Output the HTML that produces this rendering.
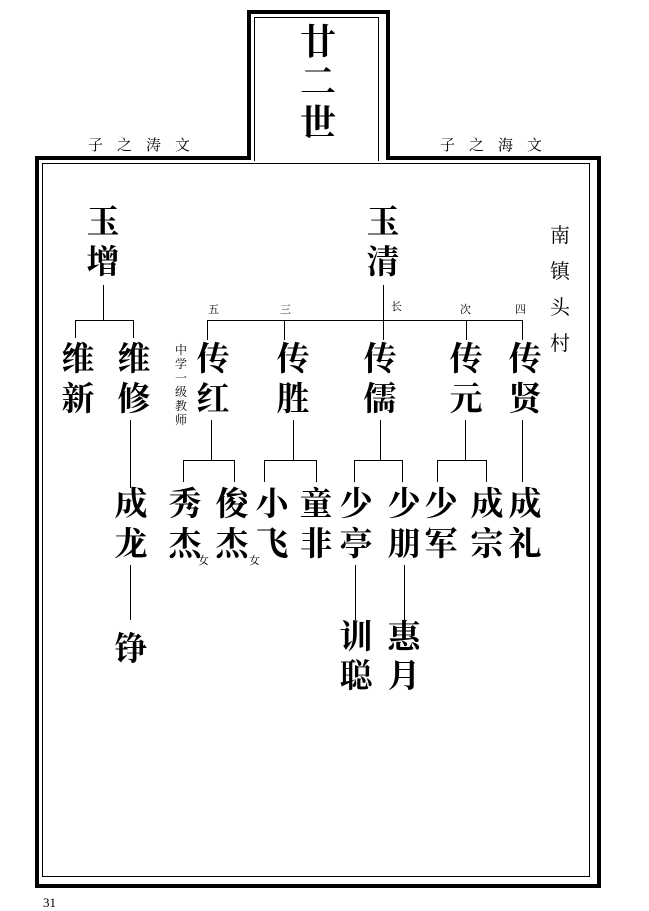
<!DOCTYPE html>
<html><head><meta charset="utf-8"><style>
body{margin:0;width:649px;height:911px;background:#fff;position:relative;overflow:hidden;font-family:"Liberation Serif","Noto Serif CJK SC",serif;}
.a{position:absolute;}
.c{position:absolute;width:40px;margin-left:-20px;text-align:center;font-size:33px;font-weight:bold;line-height:40px;}
.s{position:absolute;font-size:11px;line-height:11px;}
.l{position:absolute;background:#000;}
</style></head><body>
<!-- main frame -->
<div class="a" style="left:35px;top:156px;width:558px;height:724px;border:4px solid #000;"></div>
<div class="a" style="left:42px;top:163px;width:546px;height:712px;border:1px solid #000;"></div>
<!-- top box -->
<div class="a" style="left:247px;top:10px;width:135px;height:146px;border:4px solid #000;border-bottom:none;background:#fff;"></div>
<div class="a" style="left:254px;top:17px;width:123px;height:143px;border:1px solid #000;border-bottom:none;background:#fff;"></div>
<div class="c" style="left:318px;top:22px;font-size:36px;">廿</div>
<div class="c" style="left:318px;top:62px;font-size:36px;">二</div>
<div class="c" style="left:318px;top:103px;font-size:36px;">世</div>
<div class="a" style="left:88px;top:134px;font-size:15px;letter-spacing:14px;">子之涛文</div>
<div class="a" style="left:440px;top:134px;font-size:15px;letter-spacing:14px;">子之海文</div>
<div class="a" style="left:550px;top:218px;font-size:20px;line-height:36px;width:22px;">南<br>镇<br>头<br>村</div>

<div class="c" style="left:103px;top:203px;">玉</div>
<div class="c" style="left:103px;top:243px;">增</div>
<div class="c" style="left:383px;top:203px;">玉</div>
<div class="c" style="left:383px;top:243px;">清</div>

<div class="l" style="left:103px;top:285px;width:1px;height:35px;"></div>
<div class="l" style="left:75px;top:320px;width:59px;height:1px;"></div>
<div class="l" style="left:75px;top:320px;width:1px;height:18px;"></div>
<div class="l" style="left:133px;top:320px;width:1px;height:18px;"></div>

<div class="l" style="left:383px;top:285px;width:1px;height:35px;"></div>
<div class="l" style="left:207px;top:320px;width:316px;height:1px;"></div>
<div class="l" style="left:207px;top:320px;width:1px;height:20px;"></div>
<div class="l" style="left:284px;top:320px;width:1px;height:20px;"></div>
<div class="l" style="left:383px;top:320px;width:1px;height:20px;"></div>
<div class="l" style="left:466px;top:320px;width:1px;height:20px;"></div>
<div class="l" style="left:522px;top:320px;width:1px;height:20px;"></div>
<div class="s" style="left:208px;top:305px;">五</div>
<div class="s" style="left:280px;top:305px;">三</div>
<div class="s" style="left:391px;top:302px;">长</div>
<div class="s" style="left:460px;top:305px;">次</div>
<div class="s" style="left:515px;top:305px;">四</div>

<div class="c" style="left:78px;top:340px;">维</div><div class="c" style="left:78px;top:380px;">新</div>
<div class="c" style="left:134px;top:340px;">维</div><div class="c" style="left:134px;top:380px;">修</div>
<div class="c" style="left:213px;top:340px;">传</div><div class="c" style="left:213px;top:380px;">红</div>
<div class="c" style="left:293px;top:340px;">传</div><div class="c" style="left:293px;top:380px;">胜</div>
<div class="c" style="left:380px;top:340px;">传</div><div class="c" style="left:380px;top:380px;">儒</div>
<div class="c" style="left:466px;top:340px;">传</div><div class="c" style="left:466px;top:380px;">元</div>
<div class="c" style="left:525px;top:340px;">传</div><div class="c" style="left:525px;top:380px;">贤</div>
<div class="a" style="left:175px;top:343px;font-size:12px;line-height:14px;width:13px;">中<br>学<br>一<br>级<br>教<br>师</div>

<div class="l" style="left:130px;top:420px;width:1px;height:68px;"></div>
<div class="l" style="left:211px;top:420px;width:1px;height:40px;"></div>
<div class="l" style="left:183px;top:460px;width:52px;height:1px;"></div>
<div class="l" style="left:183px;top:460px;width:1px;height:22px;"></div>
<div class="l" style="left:234px;top:460px;width:1px;height:22px;"></div>
<div class="l" style="left:293px;top:420px;width:1px;height:40px;"></div>
<div class="l" style="left:264px;top:460px;width:53px;height:1px;"></div>
<div class="l" style="left:264px;top:460px;width:1px;height:22px;"></div>
<div class="l" style="left:316px;top:460px;width:1px;height:22px;"></div>
<div class="l" style="left:380px;top:420px;width:1px;height:40px;"></div>
<div class="l" style="left:354px;top:460px;width:49px;height:1px;"></div>
<div class="l" style="left:354px;top:460px;width:1px;height:22px;"></div>
<div class="l" style="left:402px;top:460px;width:1px;height:22px;"></div>
<div class="l" style="left:465px;top:420px;width:1px;height:40px;"></div>
<div class="l" style="left:437px;top:460px;width:50px;height:1px;"></div>
<div class="l" style="left:437px;top:460px;width:1px;height:22px;"></div>
<div class="l" style="left:486px;top:460px;width:1px;height:22px;"></div>
<div class="l" style="left:522px;top:420px;width:1px;height:62px;"></div>

<div class="c" style="left:131px;top:485px;">成</div><div class="c" style="left:131px;top:525px;">龙</div>
<div class="c" style="left:185px;top:485px;">秀</div><div class="c" style="left:185px;top:525px;">杰</div>
<div class="c" style="left:232px;top:485px;">俊</div><div class="c" style="left:232px;top:525px;">杰</div>
<div class="c" style="left:272px;top:485px;">小</div><div class="c" style="left:272px;top:525px;">飞</div>
<div class="c" style="left:316px;top:485px;">童</div><div class="c" style="left:316px;top:525px;">非</div>
<div class="c" style="left:356px;top:485px;">少</div><div class="c" style="left:356px;top:525px;">亭</div>
<div class="c" style="left:404px;top:485px;">少</div><div class="c" style="left:404px;top:525px;">朋</div>
<div class="c" style="left:441px;top:485px;">少</div><div class="c" style="left:441px;top:525px;">军</div>
<div class="c" style="left:487px;top:485px;">成</div><div class="c" style="left:487px;top:525px;">宗</div>
<div class="c" style="left:525px;top:485px;">成</div><div class="c" style="left:525px;top:525px;">礼</div>
<div class="s" style="left:198px;top:556px;">女</div>
<div class="s" style="left:249px;top:556px;">女</div>

<div class="l" style="left:130px;top:565px;width:1px;height:55px;"></div>
<div class="l" style="left:355px;top:565px;width:1px;height:55px;"></div>
<div class="l" style="left:404px;top:565px;width:1px;height:55px;"></div>

<div class="c" style="left:131px;top:630px;">铮</div>
<div class="c" style="left:356px;top:618px;">训</div><div class="c" style="left:356px;top:657px;">聪</div>
<div class="c" style="left:404px;top:618px;">惠</div><div class="c" style="left:404px;top:657px;">月</div>

<div class="a" style="left:43px;top:895px;font-size:13px;">31</div>
</body></html>
